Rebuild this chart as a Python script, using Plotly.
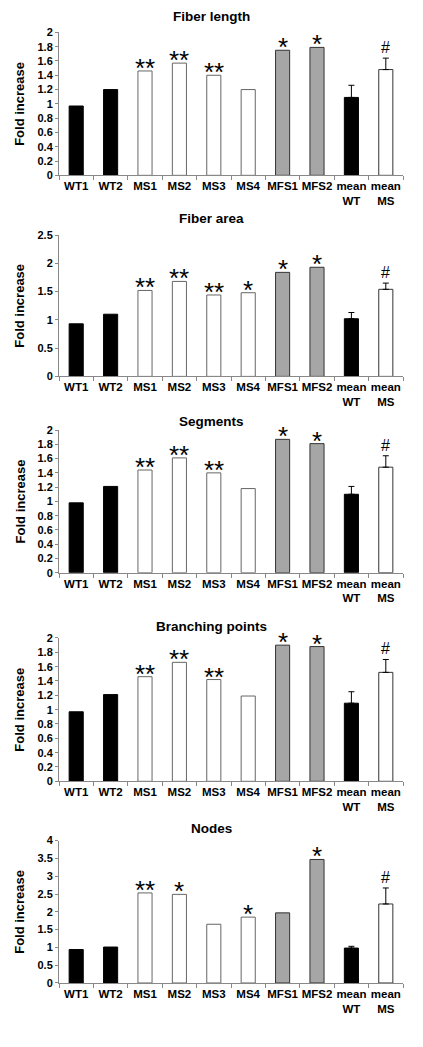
import plotly.graph_objects as go

categories = ["WT1", "WT2", "MS1", "MS2", "MS3", "MS4", "MFS1", "MFS2", "mean<br>WT", "mean<br>MS"]
bar_colors = ["#000000", "#000000", "#ffffff", "#ffffff", "#ffffff", "#ffffff",
              "#a6a6a6", "#a6a6a6", "#000000", "#ffffff"]
line_colors = ["#000000", "#000000", "#666666", "#666666", "#666666", "#666666",
               "#333333", "#333333", "#000000", "#333333"]
is_mean = [False, False, False, False, False, False, False, False, True, True]

titles = ["Fiber length", "Fiber area", "Segments", "Branching points", "Nodes"]

fiber_length = [0.97, 1.20, 1.46, 1.57, 1.40, 1.20, 1.75, 1.79, 1.09, 1.48]
fiber_length_err = [0, 0, 0, 0, 0, 0, 0, 0, 0.17, 0.16]
fiber_length_sig = ["", "", "**", "**", "**", "", "*", "*", "", "#"]

fiber_area = [0.93, 1.10, 1.52, 1.68, 1.44, 1.48, 1.84, 1.93, 1.02, 1.54]
fiber_area_err = [0, 0, 0, 0, 0, 0, 0, 0, 0.11, 0.11]
fiber_area_sig = ["", "", "**", "**", "**", "*", "*", "*", "", "#"]

segments = [0.98, 1.21, 1.44, 1.61, 1.40, 1.18, 1.87, 1.81, 1.10, 1.48]
segments_err = [0, 0, 0, 0, 0, 0, 0, 0, 0.11, 0.16]
segments_sig = ["", "", "**", "**", "**", "", "*", "*", "", "#"]

branching = [0.97, 1.21, 1.46, 1.66, 1.42, 1.19, 1.90, 1.88, 1.09, 1.52]
branching_err = [0, 0, 0, 0, 0, 0, 0, 0, 0.16, 0.18]
branching_sig = ["", "", "**", "**", "**", "", "*", "*", "", "#"]

nodes = [0.94, 1.01, 2.53, 2.49, 1.65, 1.85, 1.97, 3.47, 0.98, 2.22]
nodes_err = [0, 0, 0, 0, 0, 0, 0, 0, 0.05, 0.45]
nodes_sig = ["", "", "**", "*", "", "*", "", "*", "", "#"]

y_ranges = [[0, 2], [0, 2.5], [0, 2], [0, 2], [0, 4]]
y_dticks = [0.2, 0.5, 0.2, 0.2, 0.5]

values = [fiber_length, fiber_area, segments, branching, nodes]
errors = [fiber_length_err, fiber_area_err, segments_err, branching_err, nodes_err]
sigs = [fiber_length_sig, fiber_area_sig, segments_sig, branching_sig, nodes_sig]

W, H = 423, 1047
# plot area in pixels: (top, bottom) of each panel
panel_px = [(26.7, 171.3), (231.7, 374.7), (429.0, 573.3), (639.3, 784.3), (844.3, 988.3)]
title_px = [11, 215, 420, 628, 832]
x_left, x_right = 59, 403

FONT = "Arial, Liberation Sans, sans-serif"

fig = go.Figure()
annotations = []
for i in range(5):
    ax = "" if i == 0 else str(i + 1)
    top, bot = panel_px[i]
    plain = [k for k in range(len(categories)) if not is_mean[k]]
    means = [k for k in range(len(categories)) if is_mean[k]]
    fig.add_trace(go.Bar(
        x=[categories[k] for k in plain], y=[values[i][k] for k in plain],
        marker=dict(color=[bar_colors[k] for k in plain],
                    line=dict(color=[line_colors[k] for k in plain], width=1)),
        xaxis="x" + ax, yaxis="y" + ax, showlegend=False,
    ))
    fig.add_trace(go.Bar(
        x=[categories[k] for k in means], y=[values[i][k] for k in means],
        marker=dict(color=[bar_colors[k] for k in means],
                    line=dict(color=[line_colors[k] for k in means], width=1)),
        error_y=dict(type="data", symmetric=False,
                     array=[errors[i][k] for k in means],
                     arrayminus=[0 for k in means], color="#000000",
                     thickness=1, width=3),
        xaxis="x" + ax, yaxis="y" + ax, showlegend=False,
    ))
    fig.layout["xaxis" + ax] = dict(
        domain=[x_left / W, x_right / W], anchor="y" + ax,
        type="category", categoryorder="array", categoryarray=categories,
        tickson="boundaries", ticks="outside", ticklen=4,
        tickcolor="#888888", showline=True, linecolor="#888888", linewidth=1,
        showgrid=False, tickangle=0,
        tickfont=dict(family=FONT, size=11.5, color="#000000", weight="bold"),
    )
    fig.layout["yaxis" + ax] = dict(
        domain=[1 - bot / H, 1 - top / H], anchor="x" + ax,
        range=y_ranges[i], dtick=y_dticks[i], ticks="outside", ticklen=3,
        tickcolor="#888888", showline=True, linecolor="#888888", linewidth=1,
        showgrid=False, zeroline=False,
        tickfont=dict(family=FONT, size=11, color="#000000", weight="bold"),
    )
    # panel title
    annotations.append(dict(
        text="<b>" + titles[i] + "</b>", xref="paper", yref="paper",
        x=0.5, y=1 - title_px[i] / H, xanchor="center", yanchor="middle",
        showarrow=False, font=dict(family=FONT, size=13.5, color="#000000"),
    ))
    # y-axis title
    annotations.append(dict(
        text="<b>Fold increase</b>", xref="paper", yref="paper",
        x=20 / W, y=1 - (top + bot) / 2 / H, xanchor="center", yanchor="middle",
        textangle=-90, showarrow=False,
        font=dict(family=FONT, size=13, color="#000000"),
    ))
    # significance markers
    for j, s in enumerate(sigs[i]):
        if not s:
            continue
        base = values[i][j] + errors[i][j]
        if s == "#":
            annotations.append(dict(
                text="#", xref="x" + ax, yref="y" + ax, x=categories[j], y=base,
                xanchor="center", yanchor="bottom", yshift=0, showarrow=False,
                font=dict(family=FONT, size=16, color="#000000"),
            ))
        else:
            annotations.append(dict(
                text=s, xref="x" + ax, yref="y" + ax, x=categories[j], y=base,
                xanchor="center", yanchor="bottom", yshift=-14, showarrow=False,
                font=dict(family=FONT, size=26, color="#000000"),
            ))

fig.update_layout(
    width=W, height=H, autosize=False,
    margin=dict(l=0, r=0, t=0, b=0),
    paper_bgcolor="#ffffff", plot_bgcolor="#ffffff",
    barmode="overlay", bargap=0.59, annotations=annotations,
    font=dict(family=FONT, color="#000000"),
)

fig.write_html(
    "out.html", config={"displayModeBar": False},
    post_script=("document.body.style.margin='0';"
                 "document.body.style.overflow='hidden';"
                 "document.documentElement.style.overflow='hidden';"),
)
